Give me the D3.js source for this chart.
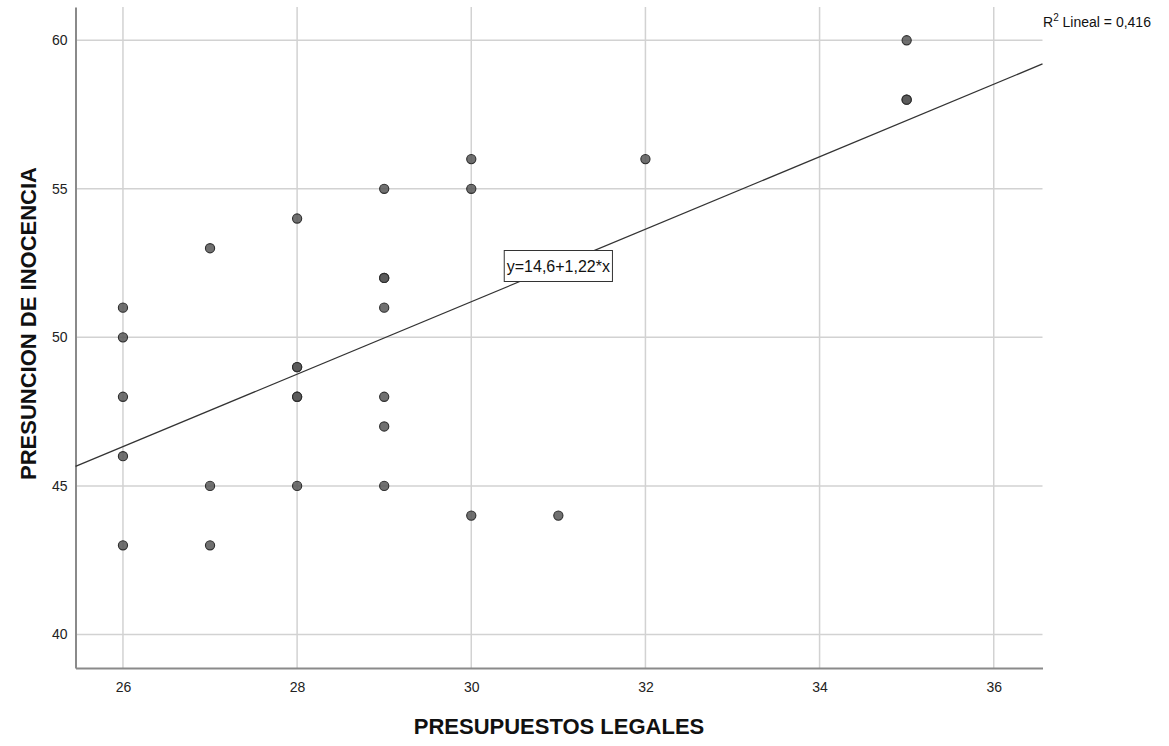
<!DOCTYPE html>
<html><head><meta charset="utf-8">
<script src="https://cdn.jsdelivr.net/npm/d3@7"></script>
<style>body{margin:0;background:#fff}svg{display:block}</style>
</head><body>
<svg id="c" width="1169" height="746"></svg>
<script>
const xValues = [26,26,26,26,26, 27,27,27, 28,28,28,28,28,28, 29,29,29,29,29,29,29, 30,30,30, 31, 32, 35,35,35];
const yValues = [51,50,48,46,43, 53,45,43, 54,49,49,48,48,45, 55,52,52,51,48,47,45, 56,55,44, 44, 56, 60,58,58];
const xTicks = [26,28,30,32,34,36];
const yTicks = [40,45,50,55,60];
const intercept = 14.6, slope = 1.22;
const fitLabel = "y=14,6+1,22*x";
const r2Value = "0,416";
const xTitle = "PRESUPUESTOS LEGALES";
const yTitle = "PRESUNCION DE INOCENCIA";

const svg = d3.select("#c");
const L = 75.5, R = 1042.5, T = 7, B = 668;
const x = d3.scaleLinear().domain([25.455, 36.56]).range([L, R]);
const y = d3.scaleLinear().domain([38.87, 61.12]).range([B, T]);
const font = "'Liberation Sans', Arial, sans-serif";

// grid
svg.append("g").selectAll("line").data(xTicks).join("line")
  .attr("x1", d => x(d)).attr("x2", d => x(d)).attr("y1", T).attr("y2", B)
  .attr("stroke", "#d2d2d2").attr("stroke-width", 1.5);
svg.append("g").selectAll("line").data(yTicks).join("line")
  .attr("y1", d => y(d)).attr("y2", d => y(d)).attr("x1", L).attr("x2", R)
  .attr("stroke", "#d2d2d2").attr("stroke-width", 1.5);

// axes
const xAxis = svg.append("g").attr("transform", `translate(0,${B})`)
  .call(d3.axisBottom(x).tickValues(xTicks).tickSize(0).tickPadding(14).tickFormat(d3.format("d")));
xAxis.select(".domain").attr("stroke", "#8a8a8a").attr("stroke-width", 2);
xAxis.selectAll("text").attr("font-family", font).attr("font-size", 14).attr("fill", "#222");
const yAxis = svg.append("g").attr("transform", `translate(${L},0)`)
  .call(d3.axisLeft(y).tickValues(yTicks).tickSize(0).tickPadding(8).tickFormat(d3.format("d")));
yAxis.select(".domain").attr("stroke", "#8a8a8a").attr("stroke-width", 2);
yAxis.selectAll("text").attr("font-family", font).attr("font-size", 14).attr("fill", "#222");

// fit line
const xd = x.domain();
svg.append("line")
  .attr("x1", x(xd[0])).attr("y1", y(intercept + slope * xd[0]))
  .attr("x2", x(xd[1])).attr("y2", y(intercept + slope * xd[1]))
  .attr("stroke", "#333").attr("stroke-width", 1.3);

// points
svg.append("g").selectAll("circle").data(xValues.map((d, i) => [d, yValues[i]])).join("circle")
  .attr("cx", d => x(d[0])).attr("cy", d => y(d[1])).attr("r", 4.6)
  .attr("fill", "#575757").attr("fill-opacity", 0.85)
  .attr("stroke", "#2e2e2e").attr("stroke-width", 1.1);

// fit label box
const lx = 31.0;
const lg = svg.append("g");
const lt = lg.append("text").attr("x", 0).attr("y", 0)
  .attr("font-family", font).attr("font-size", 16).attr("fill", "#111").text(fitLabel);
const bb = lt.node().getBBox();
const cx = x(lx), cy = 266;
lt.attr("x", cx - bb.width / 2).attr("y", cy + 6);
lg.insert("rect", "text").attr("x", cx - bb.width / 2 - 2.5).attr("y", cy - 15.5)
  .attr("width", bb.width + 5).attr("height", 31).attr("fill", "#fff")
  .attr("stroke", "#333").attr("stroke-width", 1);

// R2
const r2 = svg.append("text").attr("x", 1043).attr("y", 27)
  .attr("font-family", font).attr("font-size", 14).attr("fill", "#111");
r2.append("tspan").text("R");
r2.append("tspan").attr("dy", -6).attr("font-size", 10).text("2");
r2.append("tspan").attr("dy", 6).text(" Lineal = " + r2Value);

// titles
svg.append("text").attr("x", (L + R) / 2).attr("y", 734).attr("text-anchor", "middle")
  .attr("font-family", font).attr("font-weight", "bold").attr("font-size", 22).attr("fill", "#111").text(xTitle);
svg.append("text").attr("transform", `translate(36,${(T + B) / 2 - 14}) rotate(-90)`).attr("text-anchor", "middle")
  .attr("font-family", font).attr("font-weight", "bold").attr("font-size", 22).attr("fill", "#111").text(yTitle);
</script>
</body></html>
